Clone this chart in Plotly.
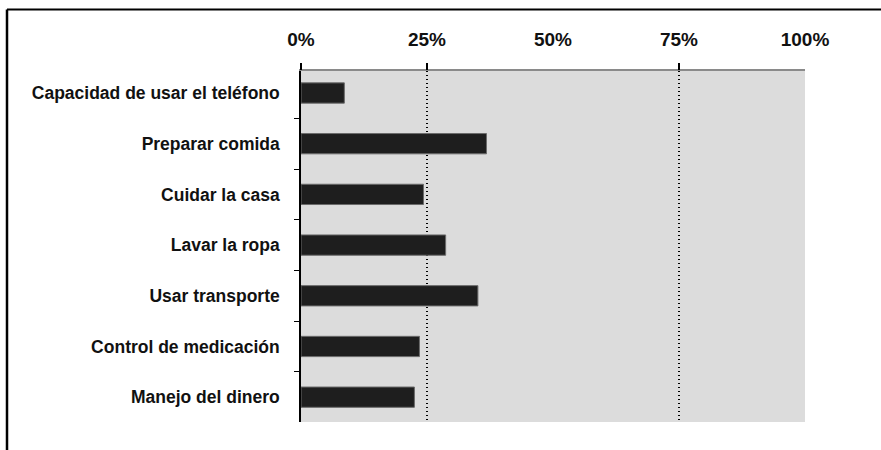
import plotly.graph_objects as go

# Actividades instrumentales de la vida diaria (porcentaje con dependencia)
categories = [
    "Capacidad de usar el teléfono",
    "Preparar comida",
    "Cuidar la casa",
    "Lavar la ropa",
    "Usar transporte",
    "Control de medicación",
    "Manejo del dinero",
]
values = [8.6, 36.8, 24.3, 28.7, 35.1, 23.5, 22.5]

x_ticks = [0, 25, 50, 75, 100]
x_tick_labels = ["0%", "25%", "50%", "75%", "100%"]
grid_ticks = [25, 75]

W, H = 881, 450
L, R, T, B = 301, 76, 71, 28
pw, ph = W - L - R, H - T - B

fig = go.Figure()

fig.add_trace(go.Bar(
    y=categories,
    x=values,
    orientation="h",
    width=0.4,
    marker=dict(color="#1e1e1e", line=dict(color="#6a6a6a", width=1)),
    hoverinfo="x+y",
    showlegend=False,
))

# invisible helper trace that carries the dotted grid axis
fig.add_trace(go.Scatter(
    x=[0, 100], y=[categories[0], categories[0]],
    xaxis="x2", mode="markers", marker=dict(opacity=0),
    hoverinfo="skip", showlegend=False,
))

label_font = dict(family="Liberation Sans, Arial, sans-serif", size=17.5, color="#111", weight="bold")

fig.update_layout(
    width=W, height=H,
    margin=dict(l=L, r=R, t=T, b=B, pad=0),
    paper_bgcolor="white",
    plot_bgcolor="#dcdcdc",
    bargap=0.6,
    xaxis=dict(
        side="top",
        range=[0, 100],
        tickvals=x_ticks,
        ticktext=x_tick_labels,
        ticks="",
        ticklabelstandoff=16,
        showgrid=False,
        zeroline=False,
        showline=True,
        linecolor="#8a8a8a",
        linewidth=1.5,
        mirror=False,
        tickfont=dict(family="Liberation Sans, Arial, sans-serif", size=19, color="#111", weight="bold"),
        fixedrange=True,
    ),
    xaxis2=dict(
        overlaying="x",
        side="top",
        range=[0, 100],
        tickvals=[0] + grid_ticks,
        showticklabels=False,
        ticks="outside",
        ticklen=7,
        tickwidth=1.5,
        tickcolor="black",
        showgrid=True,
        gridcolor="black",
        gridwidth=1.5,
        griddash="1px,3px",
        zeroline=False,
        showline=False,
        fixedrange=True,
    ),
    yaxis=dict(
        type="category",
        categoryorder="array",
        categoryarray=categories,
        range=[6.49, -0.434],
        tickson="boundaries",
        ticks="outside",
        ticklen=5,
        tickcolor="black",
        tickwidth=1,
        ticklabelstandoff=16,
        showline=True,
        linecolor="black",
        linewidth=1.5,
        showgrid=False,
        zeroline=False,
        tickfont=label_font,
        fixedrange=True,
    ),
    shapes=[
        # outer frame (top and left edges)
        dict(type="line", xref="paper", yref="paper",
             x0=(7 - L) / pw, x1=(W - L) / pw,
             y0=1 + (T - 9.5) / ph, y1=1 + (T - 9.5) / ph,
             line=dict(color="black", width=2)),
        dict(type="line", xref="paper", yref="paper",
             x0=(7 - L) / pw, x1=(7 - L) / pw,
             y0=1 + (T - 9.5) / ph, y1=-B / ph - 0.01,
             line=dict(color="black", width=2.5)),
    ],
)

fig.write_html("out.html")
